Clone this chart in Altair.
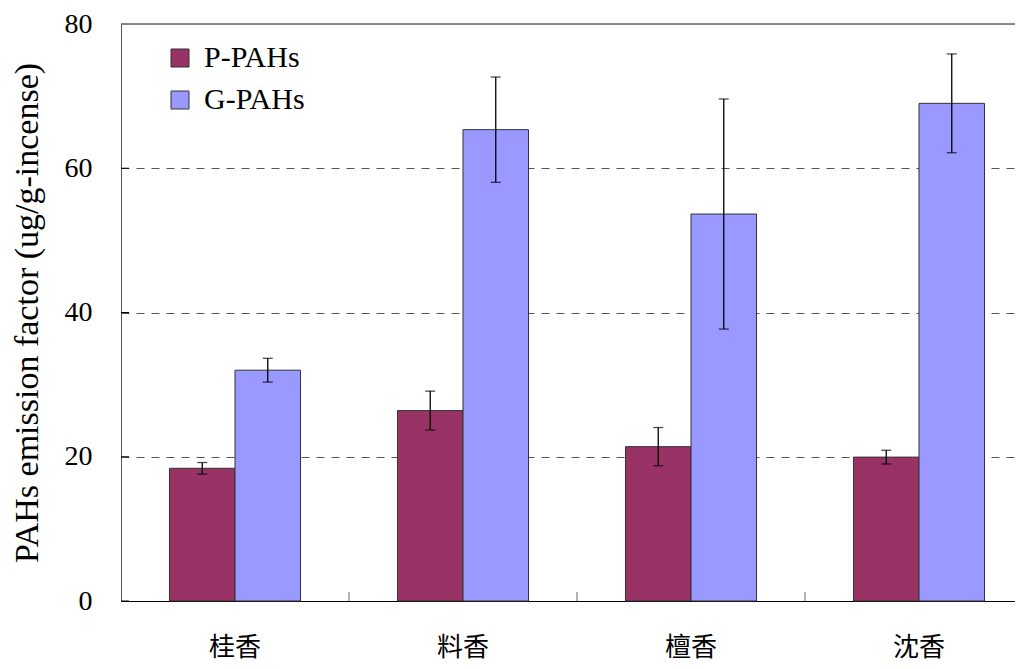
import altair as alt
import pandas as pd

categories = ["桂香", "料香", "檀香", "沈香"]
series = ["P-PAHs", "G-PAHs"]
p_values = [18.4, 26.4, 21.4, 19.95]
p_err = [0.8, 2.7, 2.65, 0.95]
g_values = [32.0, 65.35, 53.65, 69.0]
g_err = [1.65, 7.3, 15.95, 6.85]
y_ticks = [0, 20, 40, 60, 80]
colors = ["#993366", "#9999FF"]

rows = []
for i, c in enumerate(categories):
    rows.append({"cat": c, "series": series[0], "value": p_values[i], "err": p_err[i]})
    rows.append({"cat": c, "series": series[1], "value": g_values[i], "err": g_err[i]})
df = pd.DataFrame(rows)
df["lo"] = df["value"] - df["err"]
df["hi"] = df["value"] + df["err"]

serif = "Liberation Serif"
cjk = "Noto Sans CJK TC"

x_scale = alt.Scale(domain=categories, range=[0, 912], paddingInner=0, paddingOuter=0)
xo_scale = alt.Scale(domain=series, paddingInner=0, paddingOuter=0.74)
y_scale = alt.Scale(domain=[0, 80], nice=False)

x_enc = alt.X("cat:N", scale=x_scale, sort=categories,
              axis=alt.Axis(title=None, labelFont=cjk, labelFontSize=26, labelColor="black",
                            labelAngle=0, labelPadding=33, labelBaseline="top",
                            ticks=False, domainColor="black",
                            domainWidth=1, grid=False))
xo_enc = alt.XOffset("series:N", scale=xo_scale, sort=series)

base = alt.Chart(df)

bars = base.mark_bar(stroke="#333333", strokeWidth=1).encode(
    x=x_enc,
    xOffset=xo_enc,
    y=alt.Y("value:Q", scale=y_scale,
            axis=alt.Axis(title="PAHs emission factor (ug/g-incense)", titleFont=serif,
                          titleFontSize=34, titleFontWeight="normal", titleColor="black",
                          titlePadding=20, labelFont=serif, labelFontSize=28, labelColor="black",
                          labelPadding=29, values=y_ticks, ticks=False, domainColor="#555555",
                          grid=True, gridColor="#555555", gridDash=[8, 7], gridWidth=1)),
    color=alt.Color("series:N", sort=series,
                    scale=alt.Scale(domain=series, range=colors),
                    legend=alt.Legend(title=None, orient="none", legendX=44, legendY=19,
                                      symbolType="square", symbolSize=324,
                                      symbolStrokeColor="#333333", symbolStrokeWidth=1,
                                      labelFont=serif, labelFontSize=30, labelColor="black",
                                      labelOffset=9, rowPadding=12, padding=0)),
)

err_lines = base.mark_rule(color="black", strokeWidth=1.3).encode(
    x=alt.X("cat:N", scale=x_scale, sort=categories),
    xOffset=xo_enc,
    y=alt.Y("lo:Q", scale=y_scale),
    y2="hi:Q",
)
caps_hi = base.mark_tick(color="black", thickness=1.3, size=10).encode(
    x=alt.X("cat:N", scale=x_scale, sort=categories),
    xOffset=xo_enc,
    y=alt.Y("hi:Q", scale=y_scale),
)
caps_lo = base.mark_tick(color="black", thickness=1.3, size=10).encode(
    x=alt.X("cat:N", scale=x_scale, sort=categories),
    xOffset=xo_enc,
    y=alt.Y("lo:Q", scale=y_scale),
)

ytick_df = pd.DataFrame({"v": y_ticks})
y_inner_ticks = alt.Chart(ytick_df).mark_rule(color="black", strokeWidth=1).encode(
    y=alt.Y("v:Q", scale=y_scale),
    x=alt.value(0),
    x2=alt.value(8),
)

xtick_df = pd.DataFrame({"cat": categories[1:]})
x_inner_ticks = alt.Chart(xtick_df).mark_rule(color="#666666", strokeWidth=1).encode(
    x=alt.X("cat:N", scale=x_scale, sort=categories, bandPosition=0),
    y=alt.value(577),
    y2=alt.value(568),
)

top_line = alt.Chart(ytick_df).mark_rule(color="#888888", strokeWidth=1).encode(
    x=alt.value(0),
    x2=alt.value("width"),
    y=alt.value(0),
)

chart = alt.layer(bars, err_lines, caps_hi, caps_lo, y_inner_ticks, x_inner_ticks, top_line).properties(
    width=894,
    height=577,
    autosize=alt.AutoSizeParams(type="none"),
    padding={"left": 113, "top": 16, "right": 0, "bottom": 60},
).configure_view(stroke=None).configure(background="white")

chart.save("out.html", embed_options={"renderer": "svg", "actions": False})
